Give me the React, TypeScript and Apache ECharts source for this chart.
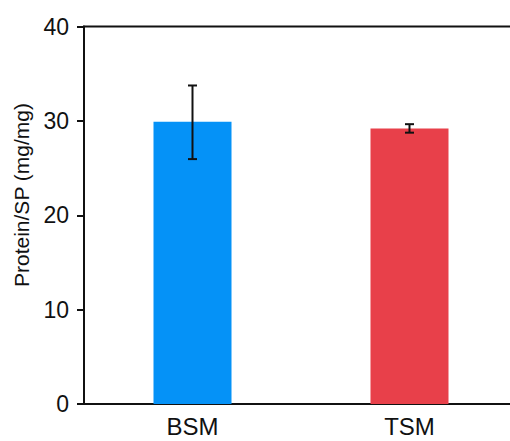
import React, { useEffect, useRef } from "react";
import * as echarts from "echarts";

const categories = ["BSM", "TSM"];
const means = [29.9, 29.2];
const errLow = [25.95, 28.75];
const errHigh = [33.75, 29.65];
const barColors = ["#0592F7", "#E8404A"];
const yTicks = [0, 10, 20, 30, 40];

export default function App() {
  const ref = useRef<HTMLDivElement>(null);
  useEffect(() => {
    document.body.style.margin = "0";
    const chart = echarts.init(ref.current!, null, { renderer: "svg" });
    const font = "'Liberation Sans', Arial, sans-serif";
    chart.setOption({
      animation: false,
      grid: {
        left: 84,
        top: 26.5,
        width: 434,
        height: 377.5,
        containLabel: false,
        outerBoundsMode: "none",
        show: true,
        borderColor: "#111",
        borderWidth: 2,
      },
      xAxis: {
        type: "category",
        data: categories,
        axisLine: { lineStyle: { color: "#111", width: 2 } },
        axisTick: { alignWithLabel: true, length: 6, lineStyle: { color: "#111", width: 2 } },
        axisLabel: { color: "#111", fontSize: 24, fontFamily: font, margin: 10 },
      },
      yAxis: {
        type: "value",
        min: yTicks[0],
        max: yTicks[yTicks.length - 1],
        interval: 10,
        splitLine: { show: false },
        axisLine: { show: true, lineStyle: { color: "#111", width: 2 } },
        axisTick: { show: true, length: 7, lineStyle: { color: "#111", width: 2 } },
        axisLabel: { color: "#111", fontSize: 23, fontFamily: font, margin: 15 },
      },
      graphic: [
        {
          type: "text",
          x: 21,
          y: 195,
          rotation: Math.PI / 2,
          style: {
            text: "Protein/SP (mg/mg)",
            fontSize: 21,
            fontFamily: font,
            fill: "#111",
            align: "center",
            verticalAlign: "middle",
          },
        },
      ],
      series: [
        {
          type: "bar",
          data: means.map((v, i) => ({ value: v, itemStyle: { color: barColors[i] } })),
          barWidth: 78,
        },
        {
          type: "custom",
          data: categories.map((c, i) => [i, errLow[i], errHigh[i]]),
          z: 10,
          renderItem: (params: any, api: any) => {
            const x = api.value(0);
            const lo = api.coord([x, api.value(1)]);
            const hi = api.coord([x, api.value(2)]);
            const hw = 4.5;
            const style = { stroke: "#111", lineWidth: 2 };
            return {
              type: "group",
              children: [
                { type: "line", shape: { x1: lo[0], y1: lo[1], x2: hi[0], y2: hi[1] }, style },
                { type: "line", shape: { x1: lo[0] - hw, y1: lo[1], x2: lo[0] + hw, y2: lo[1] }, style },
                { type: "line", shape: { x1: hi[0] - hw, y1: hi[1], x2: hi[0] + hw, y2: hi[1] }, style },
              ],
            };
          },
        },
      ],
    });
    return () => chart.dispose();
  }, []);
  return <div ref={ref} style={{ width: 510, height: 441 }} />;
}
